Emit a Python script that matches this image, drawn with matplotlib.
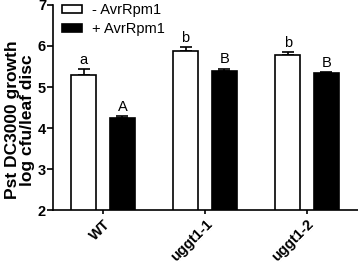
import numpy as np
import matplotlib
matplotlib.use("Agg")
import matplotlib.pyplot as plt

plt.rcParams['font.family'] = ['Liberation Sans', 'DejaVu Sans']

genotypes = ['WT', 'uggt1-1', 'uggt1-2']
minus_avr = [5.29, 5.89, 5.77]
minus_err = [0.15, 0.09, 0.08]
plus_avr = [4.24, 5.40, 5.33]
plus_err = [0.05, 0.05, 0.04]
minus_letters = ['a', 'b', 'b']
plus_letters = ['A', 'B', 'B']

fig = plt.figure(figsize=(3.58, 2.63), dpi=100)
ax = fig.add_axes([0.148, 0.2015, 0.852, 0.7795])

x = np.arange(len(genotypes))
w = 0.25
off = 0.19

ax.bar(x - off, minus_avr, w, color='white', edgecolor='black', linewidth=1.2,
       label='- AvrRpm1', zorder=2)
ax.bar(x + off, plus_avr, w, color='black', edgecolor='black', linewidth=1.2,
       label='+ AvrRpm1', zorder=2)
ax.errorbar(x - off, minus_avr, yerr=[np.zeros(3), minus_err], fmt='none',
            ecolor='black', elinewidth=1.2, capsize=4.5, capthick=1.2, zorder=1)
ax.errorbar(x + off, plus_avr, yerr=[np.zeros(3), plus_err], fmt='none',
            ecolor='black', elinewidth=1.2, capsize=4.5, capthick=1.2, zorder=1)

# significance letters
for i in range(3):
    ax.text(x[i] - off, minus_avr[i] + minus_err[i] + 0.05, minus_letters[i],
            ha='center', va='bottom', fontsize=10.5)
    ax.text(x[i] + off, plus_avr[i] + plus_err[i] + 0.05, plus_letters[i],
            ha='center', va='bottom', fontsize=10.5)

ax.set_xlim(-0.49, 2.5)
ax.set_ylim(2, 7)
ax.set_yticks([2, 3, 4, 5, 6, 7])
ax.set_xticks(x)
ax.set_xticklabels(genotypes, rotation=45, ha='right', rotation_mode='anchor',
                   fontweight='bold', fontsize=10.5)
for lab in ax.get_yticklabels():
    lab.set_fontweight('bold')
    lab.set_fontsize(10.5)
ax.tick_params(axis='y', length=4, width=1.2, pad=1)
ax.tick_params(axis='x', length=3, width=1.2, pad=2)

ax.spines['top'].set_visible(False)
ax.spines['right'].set_visible(False)
ax.spines['left'].set_linewidth(1.2)
ax.spines['bottom'].set_linewidth(1.2)

ax.set_ylabel('Pst DC3000 growth\nlog cfu/leaf disc', fontweight='bold',
              fontsize=12.5, linespacing=1.0)
ax.yaxis.set_label_coords(-0.06, 0.44)

ax.legend(loc='upper left', bbox_to_anchor=(0.0295, 1.01), frameon=False,
          fontsize=10.5, handlelength=1.37, handleheight=0.48, labelspacing=0.37,
          handletextpad=0.68, borderaxespad=0, borderpad=0)

fig.savefig('out.png', dpi=100)
